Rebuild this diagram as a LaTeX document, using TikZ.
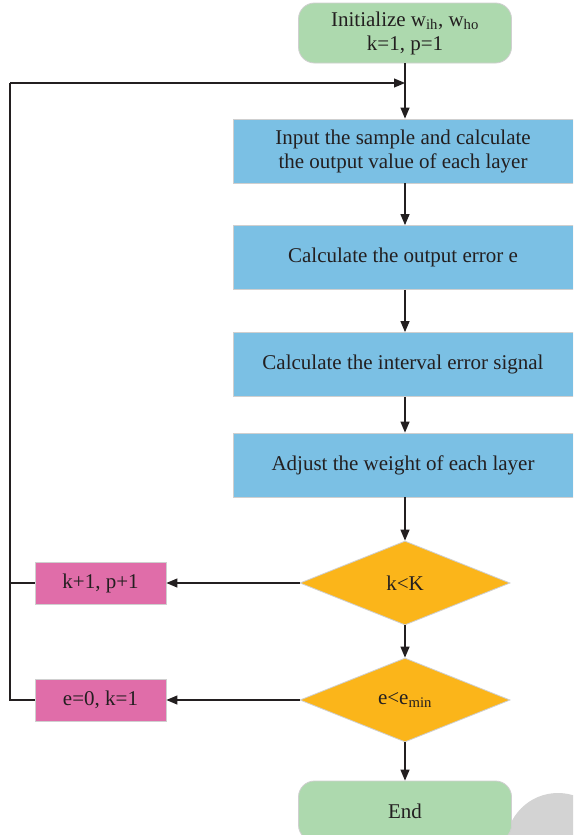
\documentclass[tikz,border=0pt]{standalone}
\usepackage{fontspec}
\setmainfont{Liberation Serif}
\usetikzlibrary{shapes.geometric,arrows.meta}
\definecolor{gfill}{HTML}{ADD9AE}
\definecolor{bfill}{HTML}{7BC0E4}
\definecolor{ofill}{HTML}{FBB51A}
\definecolor{pfill}{HTML}{E06DA9}
\definecolor{edge}{HTML}{CFCFCF}
\definecolor{blob}{HTML}{D3D3D3}
\definecolor{ink}{HTML}{231F20}
\newcommand{\sbs}[1]{\textsubscript{#1}}
\begin{document}
\begin{tikzpicture}[x=1pt,y=-1pt,
  every node/.style={font=\fontsize{21}{24}\selectfont, text=ink, align=center, inner sep=0pt},
  term/.style={draw=edge, line width=0.8pt, fill=gfill, rounded corners=16pt, minimum width=213pt, minimum height=60pt},
  proc/.style={draw=edge, line width=0.8pt, fill=bfill, minimum width=340pt, minimum height=64pt},
  dec/.style={draw=edge, line width=0.8pt, fill=ofill, diamond, aspect=2.5, minimum width=210pt, minimum height=84pt, inner sep=0pt},
  act/.style={draw=edge, line width=0.8pt, fill=pfill, minimum width=131pt, minimum height=42pt},
  conn/.style={draw=ink, line width=1.2pt, -{Triangle[length=11pt,width=9pt]}},
  plain/.style={draw=ink, line width=1.2pt}]
\useasboundingbox (0,0) rectangle (573,835);
\clip (0,0) rectangle (573,835);
\fill[white] (0,0) rectangle (573,835);
\fill[blob] (558,845) circle (52);
\node[term] (start) at (405,33) {Initialize w\sbs{ih}, w\sbs{ho}\\k=1, p=1};
\node[proc] (b1) at (403,151) {Input the sample and calculate\\the output value of each layer};
\node[proc] (b2) at (403,257.5) {Calculate the output error e};
\node[proc] (b3) at (403,364.5) {Calculate the interval error signal};
\node[proc] (b4) at (403,465) {Adjust the weight of each layer};
\node[dec] (d1) at (405,583) {k<K};
\node[dec] (d2) at (405,700) {e<e\sbs{min}};
\node[term] (end) at (405,811) {End};
\node[act] (p1) at (100.5,583) {k+1, p+1};
\node[act] (p2) at (100.5,700) {e=0, k=1};
\coordinate (top) at (405,83);
\coordinate (c1) at (10,583);
\coordinate (c2) at (10,700);
\coordinate (c0) at (10,83);
\draw[conn] (start.south) -- (b1.north -| start.south);
\draw[conn] (b1.south -| start.south) -- (b2.north -| start.south);
\draw[conn] (b2.south -| start.south) -- (b3.north -| start.south);
\draw[conn] (b3.south -| start.south) -- (b4.north -| start.south);
\draw[conn] (b4.south -| start.south) -- (d1.north);
\draw[conn] (d1.south) -- (d2.north);
\draw[conn] (d2.south) -- (end.north);
\draw[conn] (d1.west) -- (p1.east);
\draw[conn] (d2.west) -- (p2.east);
\draw[plain] (p1.west) -- (c1);
\draw[plain] (p2.west) -- (c2) -- (c0);
\draw[conn] (c0) -- (top);
\end{tikzpicture}
\end{document}
